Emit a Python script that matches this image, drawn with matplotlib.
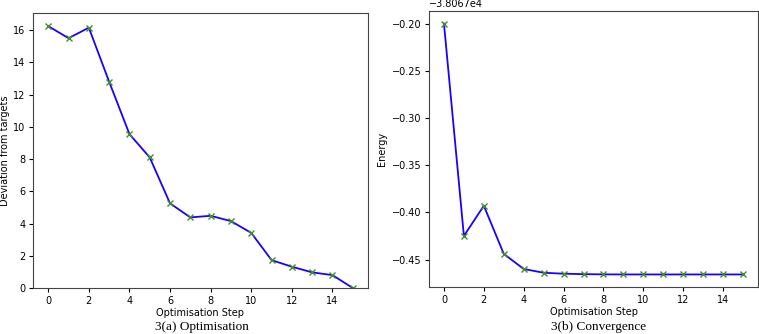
import numpy as np
import matplotlib
matplotlib.use("Agg")
import matplotlib.pyplot as plt

steps = list(range(16))
deviation = [16.25, 15.5, 16.15, 12.8, 9.55, 8.1, 5.25, 4.38, 4.48, 4.15, 3.42,
             1.73, 1.32, 0.97, 0.8, 0.0]
energy_rel = [-0.200, -0.425, -0.393, -0.444, -0.460, -0.464, -0.465, -0.4655,
              -0.4657, -0.4658, -0.4658, -0.4658, -0.4658, -0.4658, -0.4658, -0.4658]
energy = [-38067.0 + e for e in energy_rel]

W, H = 759, 334
fig = plt.figure(figsize=(W / 100, H / 100), dpi=100)
plt.rcParams['font.size'] = 8

def px(l, t, r, b):
    return [l / W, 1 - b / H, (r - l) / W, (b - t) / H]

line_c = '#1a00ff'
mark_c = '#3f8f2a'

ax1 = fig.add_axes(px(33, 13, 368, 288))
ax1.plot(steps, deviation, color=line_c, lw=1.3, marker='x', ms=5,
         mec=mark_c, mfc=mark_c)
ax1.set_ylim(bottom=0)
ax1.set_xticks(range(0, 16, 2))
ax1.set_xlabel("Optimisation Step", fontsize=7, labelpad=2)
ax1.set_ylabel("Deviation from targets", fontsize=7, labelpad=2)
ax1.tick_params(labelsize=7, length=3, pad=2.5)

ax2 = fig.add_axes(px(429, 11, 758, 287))
ax2.plot(steps, energy, color=line_c, lw=1.3, marker='x', ms=5,
         mec=mark_c, mfc=mark_c)
ax2.set_xticks(range(0, 16, 2))
ax2.set_xlabel("Optimisation Step", fontsize=7, labelpad=2)
ax2.set_ylabel("Energy", fontsize=7, labelpad=3)
ax2.tick_params(labelsize=7, length=3, pad=2.5)
ax2.yaxis.get_offset_text().set_fontsize(7)

for ax in (ax1, ax2):
    for s in ax.spines.values():
        s.set_color('#444444')

fig.text(202 / W, 1 - 327 / H, "3(a) Optimisation", ha='center', va='center',
         family='Liberation Serif', fontsize=9.5)
fig.text(599 / W, 1 - 327 / H, "3(b) Convergence", ha='center', va='center',
         family='Liberation Serif', fontsize=9.5)

fig.savefig("out.png", dpi=100)
